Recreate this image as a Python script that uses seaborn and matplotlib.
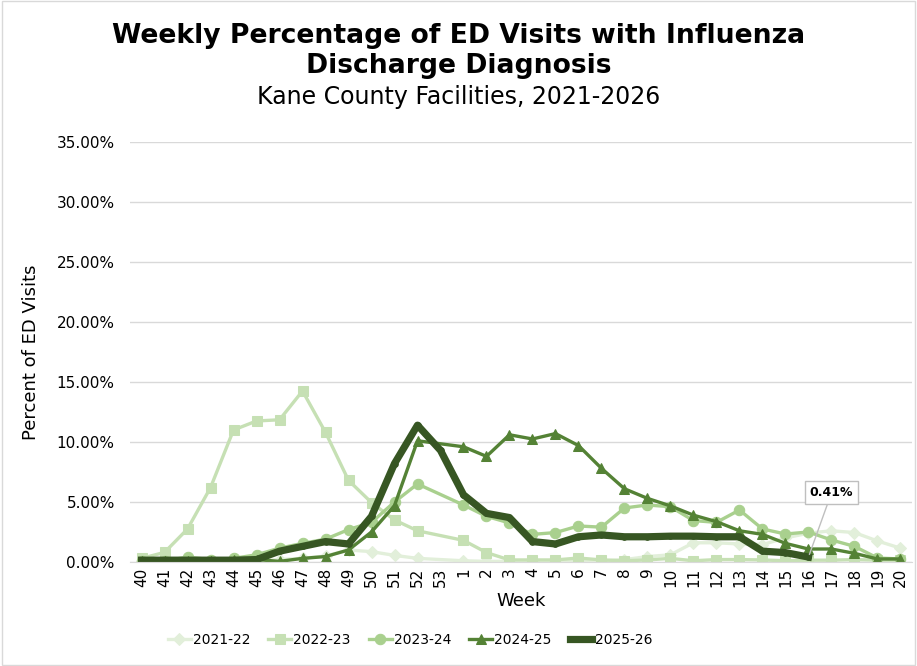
import numpy as np
import pandas as pd
import matplotlib
matplotlib.use("Agg")
import matplotlib.pyplot as plt
import seaborn as sns

nan = np.nan

weeks = [str(w) for w in range(40, 54)] + [str(w) for w in range(1, 21)]

# percent of ED visits
s2021_22 = [0.1, 0.1, 0.1, 0.1, 0.1, 0.1, 0.2, 0.3, 0.5, 1.0, 0.86, 0.55, 0.3, nan,
            0.1, 0.05, 0.05, 0.05, 0.05, 0.05, 0.1, 0.2, 0.45, 0.6, 1.6, 1.6, 1.5, 1.45,
            2.0, 2.4, 2.6, 2.45, 1.75, 1.15]
s2022_23 = [0.3, 0.8, 2.75, 6.2, 11.0, 11.75, 11.85, 14.25, 10.8, 6.8, 4.95, 3.5, 2.6, nan,
            1.8, 0.78, 0.17, 0.17, 0.17, 0.33, 0.17, 0.1, 0.17, 0.3, 0.1, 0.2, 0.2, 0.17,
            0.1, 0.15, 0.15, 0.2, 0.15, 0.15]
s2023_24 = [0.1, 0.1, 0.4, 0.2, 0.3, 0.6, 1.15, 1.55, 1.9, 2.7, 3.3, 5.0, 6.5, nan,
            4.75, 3.8, 3.25, 2.3, 2.45, 3.0, 2.9, 4.5, 4.75, 4.6, 3.45, 3.3, 4.33, 2.75,
            2.33, 2.5, 1.83, 1.3, 0.33, 0.25]
s2024_25 = [0.1, 0.1, 0.1, 0.1, 0.15, 0.2, 0.05, 0.3, 0.45, 1.0, 2.5, 4.7, 10.1, nan,
            9.6, 8.8, 10.6, 10.25, 10.7, 9.7, 7.8, 6.1, 5.3, 4.67, 3.9, 3.36, 2.6, 2.3,
            1.55, 1.08, 1.08, 0.72, 0.25, 0.25]
s2025_26 = [0.15, 0.15, 0.15, 0.15, 0.15, 0.2, 0.9, 1.3, 1.7, 1.5, 3.8, 8.2, 11.4, 9.3,
            5.6, 4.05, 3.7, 1.7, 1.5, 2.1, 2.25, 2.1, 2.1, 2.15, 2.15, 2.1, 2.1, 0.9,
            0.78, 0.41, nan, nan, nan, nan]

seasons = ["2021-22", "2022-23", "2023-24", "2024-25", "2025-26"]
values = [s2021_22, s2022_23, s2023_24, s2024_25, s2025_26]
colors = ["#e2efda", "#c6e0b4", "#a9d08e", "#548235", "#375623"]
markers = ["D", "s", "o", "^", "o"]
msizes = [6, 7.5, 7.5, 7.5, 4]
lwidths = [2.4, 2.4, 2.4, 2.4, 5.2]

pos = np.arange(len(weeks))

plt.rcParams["font.family"] = "DejaVu Sans"
fig = plt.figure(figsize=(9.17, 6.66), dpi=100)
ax = fig.add_axes([0.1418, 0.1562, 0.8527, 0.6306])

for name, vals, c, m, ms, lw in zip(seasons, values, colors, markers, msizes, lwidths):
    df = pd.DataFrame({"pos": pos, "pct": vals}).dropna()
    sns.lineplot(data=df, x="pos", y="pct", ax=ax, color=c, marker=m, markersize=ms,
                 markeredgecolor=c, linewidth=lw, label=name)

ax.set_xlim(-0.5, len(weeks) - 0.5)
ax.set_ylim(0, 35)
ax.set_yticks(np.arange(0, 36, 5))
ax.set_yticklabels([f"{v:.2f}%" for v in np.arange(0, 36, 5)], fontsize=11)
ax.set_xticks(pos)
ax.set_xticklabels(weeks, rotation=90, fontsize=11)
ax.tick_params(axis="y", length=0, pad=11)
ax.tick_params(axis="x", length=0, pad=4)
ax.yaxis.grid(True, color="#d9d9d9", linewidth=1)
ax.set_axisbelow(True)
for sp in ["top", "right", "left"]:
    ax.spines[sp].set_visible(False)
ax.spines["bottom"].set_color("#d9d9d9")
ax.set_xlabel("Week", fontsize=13, labelpad=4)
ax.set_ylabel("Percent of ED Visits", fontsize=13, labelpad=12)

ax.annotate("0.41%", xy=(29, 0.41), xytext=(30, 5.75), fontsize=9, fontweight="bold",
            ha="center", va="center",
            bbox=dict(boxstyle="square,pad=0.4", fc="white", ec="#bfbfbf", lw=1),
            arrowprops=dict(arrowstyle="-", color="#bfbfbf", lw=1, shrinkA=0, shrinkB=2))

ax.legend_.remove()
h, l = ax.get_legend_handles_labels()
fig.legend(h, l, loc="center", bbox_to_anchor=(0.447, 0.039), ncol=5, frameon=False,
           fontsize=10, handlelength=1.65, columnspacing=1.3, handletextpad=0.15)

fig.text(0.5, 0.924, "Weekly Percentage of ED Visits with Influenza\nDischarge Diagnosis",
         ha="center", va="center", fontsize=19.2, fontweight="bold", linespacing=1.2)
fig.text(0.5, 0.854, "Kane County Facilities, 2021-2026", ha="center", va="center", fontsize=17)

border = plt.Rectangle((0.002, 0.002), 0.996, 0.996, transform=fig.transFigure,
                       fill=False, ec="#d9d9d9", lw=1)
fig.patches.append(border)

fig.savefig("out.png", dpi=100)
